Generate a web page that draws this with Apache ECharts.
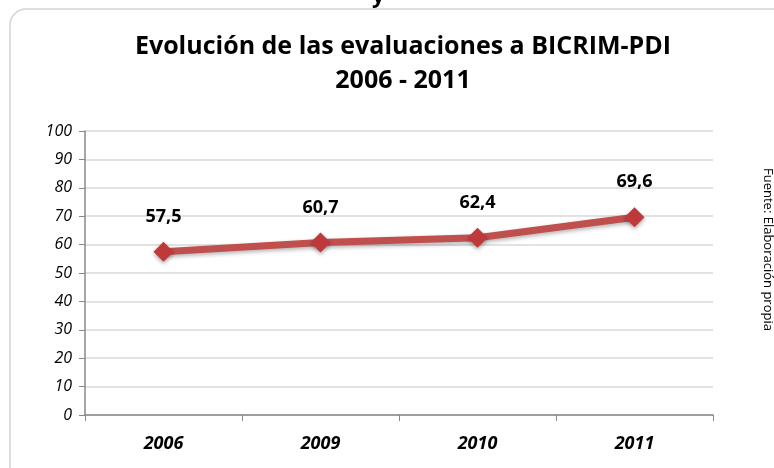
<!DOCTYPE html>
<html>
<head>
<meta charset="utf-8">
<script src="https://cdn.jsdelivr.net/npm/echarts@6/dist/echarts.min.js"></script>
<style>
  html, body { margin: 0; padding: 0; background: #fff; }
  #chart { width: 774px; height: 468px; }
</style>
</head>
<body>
<div id="chart"></div>
<script>
  // datos del gráfico
  var years = ['2006', '2009', '2010', '2011'];
  var scores = [57.5, 60.7, 62.4, 69.6];
  var titleText = 'Evolución de las evaluaciones a BICRIM-PDI\n2006 - 2011';
  var sourceText = 'Fuente: Elaboración propia';

  var font = '"Open Sans", "Liberation Sans", sans-serif';
  var myChart = echarts.init(document.getElementById('chart'));
  myChart.setOption({
    animation: false,
    title: {
      text: titleText,
      left: 398,
      textAlign: 'center',
      top: 25,
      textStyle: {
        fontFamily: font,
        fontSize: 25,
        fontWeight: 'bold',
        color: '#000',
        lineHeight: 34
      }
    },
    graphic: [
      {
        type: 'rect',
        shape: { x: 10, y: 9, width: 800, height: 500, r: 16 },
        style: { fill: 'none', stroke: '#d4d4d4', lineWidth: 1.5 },
        z: -1
      },
      {
        type: 'text',
        x: 372, y: -14,
        style: { text: 'y', font: 'bold 22px ' + font, fill: '#000' }
      },
      {
        type: 'text',
        x: 774, y: 168,
        rotation: -Math.PI / 2,
        style: { text: sourceText, font: '13px ' + font, fill: '#000' }
      }
    ],
    grid: { left: 85, right: 61, top: 131, bottom: 53 },
    xAxis: {
      type: 'category',
      data: years,
      axisLine: { lineStyle: { color: '#888', width: 1.5 } },
      axisTick: { show: true, length: 6, lineStyle: { color: '#888' } },
      axisLabel: {
        margin: 20,
        fontFamily: font,
        fontSize: 18,
        fontStyle: 'italic',
        fontWeight: 'bold',
        color: '#000'
      }
    },
    yAxis: {
      type: 'value',
      min: 0,
      max: 100,
      interval: 10,
      axisLine: { show: true, lineStyle: { color: '#888', width: 1.5 } },
      axisTick: { show: true, length: 6, lineStyle: { color: '#888' } },
      axisLabel: {
        margin: 13,
        fontFamily: font,
        fontSize: 16,
        fontStyle: 'italic',
        color: '#000'
      },
      splitLine: { lineStyle: { color: '#d9d9d9', width: 1.5 } }
    },
    series: [
      {
        type: 'line',
        data: scores,
        symbol: 'diamond',
        symbolSize: 20,
        lineStyle: {
          color: '#c0504d',
          width: 7,
          shadowColor: 'rgba(0,0,0,0.3)',
          shadowBlur: 4,
          shadowOffsetY: 2
        },
        itemStyle: {
          color: '#c0393a',
          shadowColor: 'rgba(0,0,0,0.35)',
          shadowBlur: 4,
          shadowOffsetY: 2
        },
        label: {
          show: true,
          position: 'top',
          distance: 16,
          fontFamily: font,
          fontSize: 18,
          fontWeight: 'bold',
          color: '#000',
          formatter: function (p) {
            return String(p.value).replace('.', ',');
          }
        }
      }
    ]
  });
</script>
</body>
</html>
